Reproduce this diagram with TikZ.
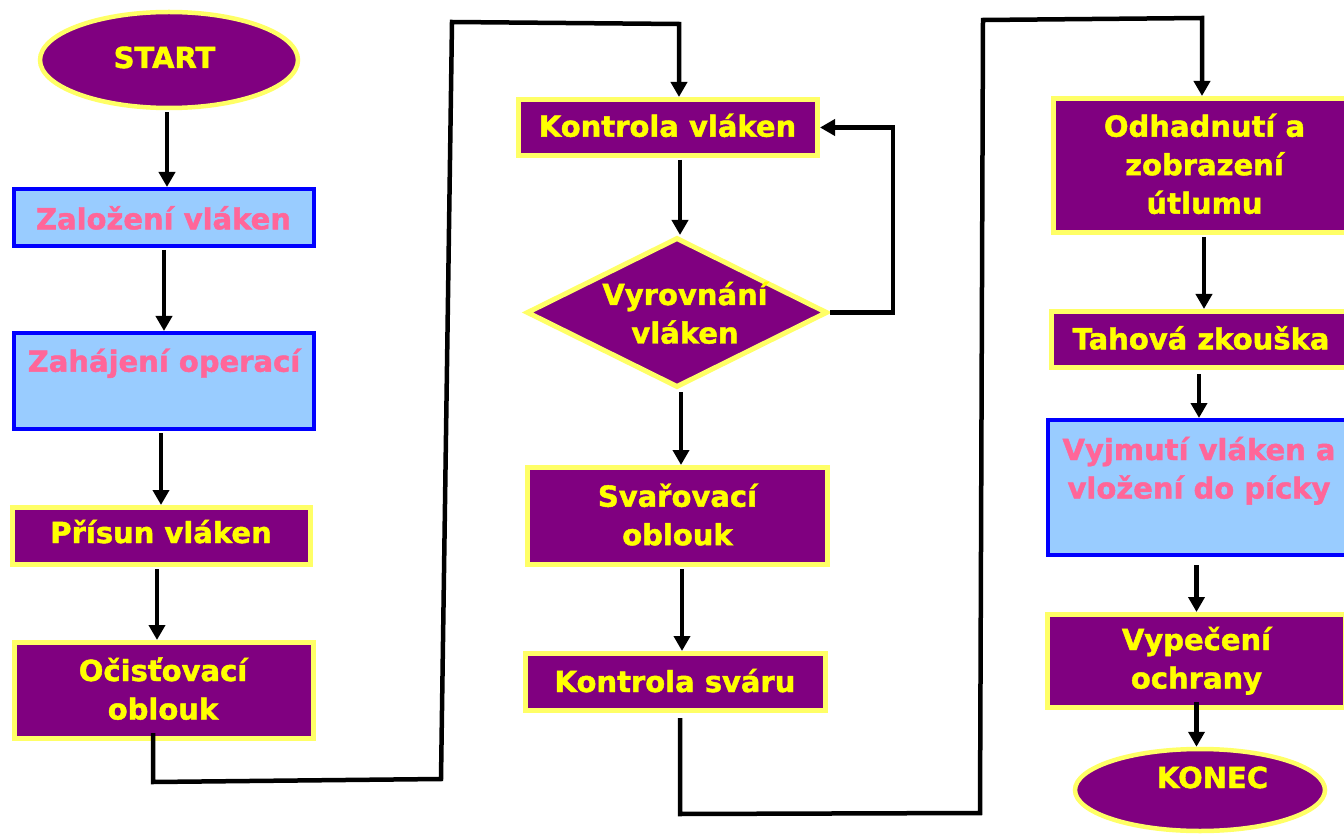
\documentclass[tikz,border=0pt]{standalone}
\usepackage{fontspec}
\setmainfont{DejaVu Sans}[BoldFeatures={FakeBold=1.5}]
\usetikzlibrary{shapes.geometric,arrows.meta}
\definecolor{purp}{HTML}{800080}
\definecolor{ybord}{HTML}{FFFF66}
\definecolor{ytext}{HTML}{FFFF00}
\definecolor{lblue}{HTML}{99CCFF}
\definecolor{bbord}{HTML}{0000FF}
\definecolor{pinktxt}{HTML}{FF6699}
\newcommand{\mlab}[1]{\begin{tabular}[t]{@{}c@{}}#1\end{tabular}}
\begin{document}
\begin{tikzpicture}[x=1pt,y=-1pt,
 pbox/.style={rectangle,draw=ybord,fill=purp,line width=5pt,inner sep=0pt},
 bbox/.style={rectangle,draw=bbord,fill=lblue,line width=4pt,inner sep=0pt},
 poval/.style={ellipse,draw=ybord,fill=purp,line width=4.5pt,inner sep=0pt},
 pdiam/.style={diamond,draw=ybord,fill=purp,line width=5pt,inner sep=0pt},
 ytxt/.style={text=ytext,font=\fontsize{29}{38.5}\selectfont\bfseries,inner sep=0pt,anchor=base},
 ptxt/.style={ytxt,text=pinktxt},
 arr/.style={line width=4.5pt,line join=miter,-{Triangle[width=16pt,length=15pt]}},
]
\useasboundingbox (0,0) rectangle (1344,834);
\fill[white] (0,0) rectangle (1344,834);

% column 1
\node[poval,minimum width=258,minimum height=96] (start) at (169,60) {};
\node[ytxt] (tstart) at (164.5,68) {\mlab{START}};
\node[bbox,minimum width=300,minimum height=57] (zal) at (164,217.5) {};
\node[ptxt] (tzal) at (163.5,229.3) {\mlab{Založení vláken}};
\node[bbox,minimum width=300,minimum height=96] (zah) at (164,381) {};
\node[ptxt] (tzah) at (164,371.7) {\mlab{Zahájení operací}};
\node[pbox,minimum width=298,minimum height=57] (pris) at (161.5,536) {};
\node[ytxt] (tpris) at (161,543) {\mlab{Přísun vláken}};
\node[pbox,minimum width=299,minimum height=96] (ocis) at (164,690.5) {};
\node[ytxt] (tocis) at (163,681) {\mlab{Očisťovací\\oblouk}};

% column 2
\node[pbox,minimum width=299,minimum height=56] (kv) at (668,127.5) {};
\node[ytxt] (tkv) at (667.5,136.7) {\mlab{Kontrola vláken}};
\node[pdiam,minimum width=301,minimum height=150] (diam) at (677,312.5) {};
\node[ytxt] (tdiam) at (685,305) {\mlab{Vyrovnání\\vláken}};
\node[pbox,minimum width=300,minimum height=97] (svar) at (677.5,516) {};
\node[ytxt] (tsvar) at (677.5,506.7) {\mlab{Svařovací\\oblouk}};
\node[pbox,minimum width=300,minimum height=57] (ks) at (675,682) {};
\node[ytxt] (tks) at (675,692) {\mlab{Kontrola sváru}};

% column 3
\node[pbox,minimum width=301,minimum height=134] (odh) at (1204,165.5) {};
\node[ytxt] (todh) at (1204.5,136.7) {\mlab{Odhadnutí a\\zobrazení\\útlumu}};
\node[pbox,minimum width=299,minimum height=56] (tah) at (1201,339.5) {};
\node[ytxt] (ttah) at (1201,349.3) {\mlab{Tahová zkouška}};
\node[bbox,minimum width=302,minimum height=135] (vyj) at (1199,487.5) {};
\node[ptxt] (tvyj) at (1199,460) {\mlab{Vyjmutí vláken a\\vložení do pícky}};
\node[pbox,minimum width=298,minimum height=93] (vyp) at (1196.5,661) {};
\node[ytxt] (tvyp) at (1196.5,650) {\mlab{Vypečení\\ochrany}};
\node[poval,minimum width=250,minimum height=82] (konec) at (1200,790) {};
\node[ytxt] (tkonec) at (1212.5,788) {\mlab{KONEC}};

% arrows column 1
\draw[arr,shorten <=2pt] ([xshift=-2pt]start.south) -- ([xshift=-2pt]start.south |- zal.north);
\draw[arr,shorten <=2pt] (zal) -- (zal |- zah.north);
\draw[arr,shorten <=2pt] ([xshift=-3pt]zah.south) -- ([xshift=-3pt]zah.south |- pris.north);
\draw[arr,shorten <=2pt] ([xshift=-4.5pt]pris.south) -- ([xshift=-4.5pt]pris.south |- ocis.north);

% arrows column 2
\draw[arr,shorten <=2pt] ([xshift=12pt]kv.south) -- ([xshift=12pt]kv.south |- diam.north);
\draw[arr,shorten <=2pt] ([xshift=4pt]diam.south) -- ([xshift=4pt]diam.south |- svar.north);
\draw[arr,shorten <=2pt] ([xshift=4.5pt]svar.south) -- ([xshift=4.5pt]svar.south |- ks.north);

% arrows column 3
\draw[arr,shorten <=2pt] (odh) -- (odh |- tah.north);
\draw[arr,shorten <=4pt] (tah.south -| vyj.north) -- (vyj.north);
\draw[arr,shorten <=8pt] (vyj.south -| vyp.north) -- (vyp.north);
\draw[arr] ([yshift=8pt]vyp.south -| vyp.north) -- (vyp.north |- konec.north);

% loop back
\coordinate (lx) at (893,0);
\draw[arr] (diam.east) -- (lx |- diam.east) -- (lx |- kv.east) -- (kv.east);

% connector 1 -> 2
\coordinate (c1) at (153,782);
\coordinate (c2) at (441,779);
\coordinate (c3) at (452,22);
\coordinate (c4) at (679,24);
\draw[arr] ([yshift=8pt]ocis.south -| c1) -- (c1) -- (c2) -- (c3) -- (c4) -- (c4 |- kv.north);

% connector 2 -> 3
\coordinate (d1) at (680,814);
\coordinate (d2) at (980,813);
\coordinate (d3) at (983,20);
\coordinate (d4) at (1202,18);
\draw[arr] ([yshift=-5pt]ks.south -| d1) -- (d1) -- (d2) -- (d3) -- (d4) -- (d4 |- odh.north);
\end{tikzpicture}
\end{document}
